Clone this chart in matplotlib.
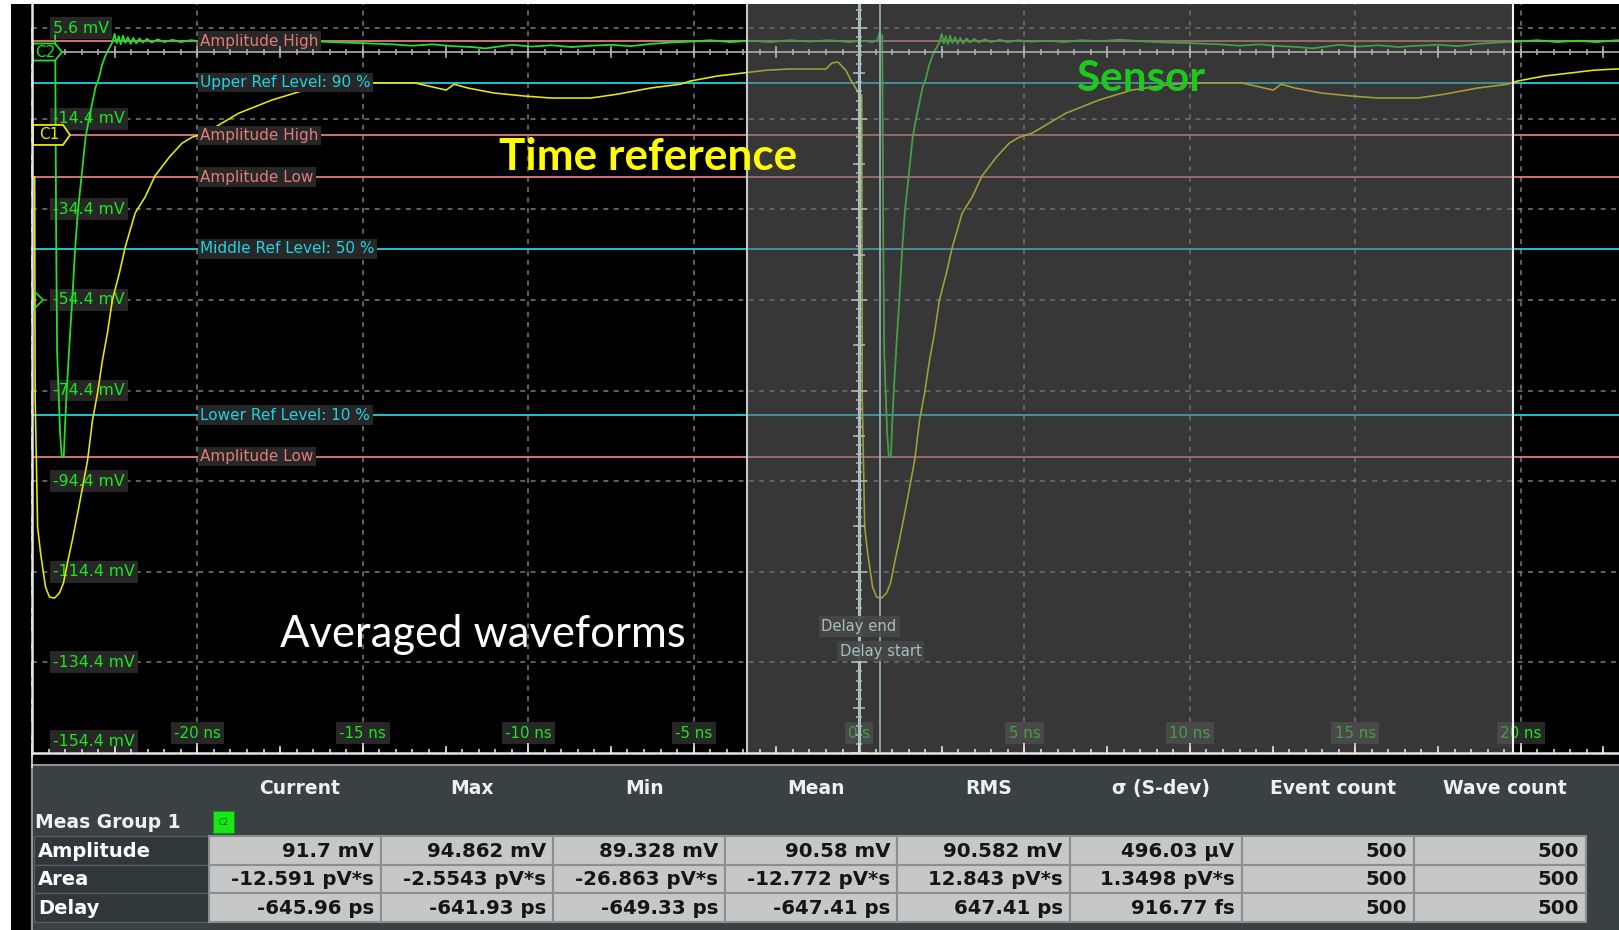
import numpy as np
import matplotlib
matplotlib.use("Agg")
import matplotlib.pyplot as plt
from matplotlib.patches import Rectangle, Polygon

W, H, DPI = 1619, 930, 100

# ---------------- display frame (ns, mV) ----------------
T_LEFT, T_RIGHT = -25.0, 22.97
V_BOTTOM, V_TOP = -154.4, 10.9

y_grid_mv = [5.6, -14.4, -34.4, -54.4, -74.4, -94.4, -114.4, -134.4, -154.4]
y_tick_labels = ["5.6 mV", "-14.4 mV", "-34.4 mV", "-54.4 mV", "-74.4 mV",
                 "-94.4 mV", "-114.4 mV", "-134.4 mV", "-154.4 mV"]
x_grid_ns = [-20, -15, -10, -5, 0, 5, 10, 15, 20]
x_tick_labels = ["-20 ns", "-15 ns", "-10 ns", "-5 ns", "0 s",
                 "5 ns", "10 ns", "15 ns", "20 ns"]

# ---------------- averaged waveforms ----------------
PERIOD_NS = 25.0
C1_EDGE_NS = 0.08        # falling edge of the C1 pulse near 0 s
C2_DELAY_NS = 0.62       # C2 edge follows the C1 edge

# C1 (time reference), one period starting at its falling edge
c1_rel_ns = [0.000, 0.015, 0.09, 0.18, 0.24, 0.33, 0.45, 0.60, 0.75, 0.87,
             0.99, 1.14, 1.30, 1.45, 1.60, 1.75, 1.90, 2.05, 2.20, 2.35,
             2.56, 2.74, 3.04, 3.34, 3.64, 4.07, 4.46, 4.76, 5.15, 6.17,
             7.17, 8.16, 9.19, 9.97, 11.48, 12.44, 12.68, 13.10, 13.89, 14.79,
             15.60, 16.81, 17.62, 18.61, 19.52, 19.82, 20.63, 22.14, 22.80, 23.92,
             24.10, 24.28, 24.52, 24.67, 24.82, 24.94]
c1_mv = [-9.2, -75.9, -104.6, -110.3, -113.4, -117.8, -120.0, -120.2, -119.1, -116.9,
         -112.5, -107.4, -101.5, -95.7, -89.8, -80.9, -75.0, -67.7, -61.7, -54.4,
         -48.5, -42.7, -35.2, -31.7, -27.0, -22.9, -19.8, -18.5, -17.6, -13.2,
         -10.3, -8.1, -7.0, -6.5, -6.5, -8.1, -6.8, -7.65, -8.75, -9.4,
         -9.85, -9.85, -9.0, -7.65, -6.8, -6.1, -5.0, -3.7, -3.45, -3.45,
         -2.1, -1.9, -3.7, -5.9, -7.65, -9.2]
c1_record_start_mv = -27.3

# C2 (sensor), one period starting at its falling edge
c2_rel_ns = [0.00, 0.03, 0.06, 0.15, 0.20, 0.26, 0.30, 0.35, 0.45, 0.52,
             0.60, 0.69, 0.80, 0.92, 1.02, 1.12, 1.22, 1.32, 1.42, 1.52,
             1.62, 1.72, 1.80, 1.86, 1.92, 1.98, 2.05, 2.12, 2.20, 2.28,
             2.36, 2.45, 2.55, 2.65, 2.78, 2.92, 3.10, 3.30, 3.55, 3.80,
             4.10, 4.50, 5.00, 5.50, 6.00, 6.60, 7.20, 8.00, 8.70, 9.50,
             10.20, 10.80, 11.40, 12.00, 12.60, 13.00, 13.40, 13.80, 14.40, 15.00,
             15.60, 16.20, 16.80, 17.40, 18.00, 18.60, 19.20, 19.80, 20.40, 21.00,
             21.60, 22.20, 22.80, 23.40, 24.00, 24.40, 24.70, 24.85, 24.92]
c2_mv = [4.0, -40.0, -66.0, -84.0, -89.0, -89.0, -82.0, -74.3, -62.0, -54.0,
         -43.5, -34.5, -27.0, -18.5, -14.5, -11.0, -7.5, -5.5, -2.5, -0.5,
         1.0, 2.3, 4.3, 2.2, 3.8, 2.0, 3.9, 2.3, 3.6, 2.1,
         3.4, 2.2, 3.3, 2.4, 3.2, 2.4, 3.1, 2.5, 3.0, 2.5,
         2.9, 2.6, 2.8, 2.5, 2.9, 2.7, 3.0, 2.6, 2.4, 2.2,
         2.0, 1.7, 2.0, 1.6, 1.4, 1.1, 1.5, 1.9, 1.5, 1.8,
         1.4, 1.7, 1.9, 1.6, 2.1, 2.4, 2.6, 2.9, 2.5, 2.8,
         2.5, 2.9, 2.6, 2.9, 2.5, 2.8, 2.5, 2.9, 4.5]

# ---------------- measurement settings ----------------
c2_amp_high = 2.7
c2_amplitude = 91.7
ref_pcts = [90, 50, 10]
c1_amp_high = -18.1
c1_amp_low = -27.3
c2_offset_mv = 0.3
c1_offset_mv = -18.0
trigger_mv = -54.4
gate_start_ns, gate_stop_ns = -3.39, 19.76
delay_end_ns = 0.0
delay_ps = -645.96

# ---------------- measurement table ----------------
group_name = "Meas Group 1"
columns = ["Current", "Max", "Min", "Mean", "RMS", "σ (S-dev)", "Event count", "Wave count"]
rows = ["Amplitude", "Area", "Delay"]
amplitude_vals = ["91.7 mV", "94.862 mV", "89.328 mV", "90.58 mV", "90.582 mV", "496.03 µV", "500", "500"]
area_vals = ["-12.591 pV*s", "-2.5543 pV*s", "-26.863 pV*s", "-12.772 pV*s", "12.843 pV*s", "1.3498 pV*s", "500", "500"]
delay_vals = ["-645.96 ps", "-641.93 ps", "-649.33 ps", "-647.41 ps", "647.41 ps", "916.77 fs", "500", "500"]

# ---------------- colours ----------------
YELLOW = "#eaea00"
GREEN = "#22e022"
LABEL_GREEN = "#1ee61e"
SALMON = "#e27c78"
CYAN = "#1fd3e2"
BOX = "#272727"

fig = plt.figure(figsize=(W / DPI, H / DPI), dpi=DPI, facecolor="white")

# background, frame and measurement table in pixel coordinates
bg = fig.add_axes([0, 0, 1, 1], zorder=0)
bg.set_xlim(0, W)
bg.set_ylim(H, 0)
bg.axis("off")
bg.add_patch(Rectangle((11, 4), W - 11, H - 4, facecolor="black", edgecolor="none"))
PANEL_TOP = 765
bg.add_patch(Rectangle((32, PANEL_TOP), W - 32 + 10, H - PANEL_TOP + 10,
                       facecolor="#3a4145", edgecolor="#8e9598", linewidth=1.5))

col_edges = [209 + 172.1 * i for i in range(len(columns) + 1)]
for i, name in enumerate(columns):
    cx = 0.5 * (col_edges[i] + col_edges[i + 1]) + 5
    bg.text(cx, 788, name, ha="center", va="center", color="#f0f0f0",
            fontsize=13.5, fontweight="bold", family="DejaVu Sans")
bg.text(35, 822, group_name, ha="left", va="center", color="#f0f0f0",
        fontsize=13.5, fontweight="bold", family="DejaVu Sans")
bg.add_patch(Rectangle((213, 811), 21, 22, facecolor="#19e619", edgecolor="#0e9a0e", linewidth=0.8))
bg.text(223.5, 822, "C2", ha="center", va="center", color="#0b6b0b", fontsize=5.5)

row_top0, row_h = 836, 28.6
for r, (rname, vals) in enumerate(zip(rows, [amplitude_vals, area_vals, delay_vals])):
    y0 = row_top0 + r * row_h
    bg.add_patch(Rectangle((34, y0), col_edges[0] - 34, row_h,
                           facecolor="#30373b", edgecolor="#565d61", linewidth=1))
    bg.text(38, y0 + row_h / 2 + 1, rname, ha="left", va="center", color="white",
            fontsize=14, fontweight="bold", family="DejaVu Sans")
    for c, val in enumerate(vals):
        bg.add_patch(Rectangle((col_edges[c], y0), col_edges[c + 1] - col_edges[c], row_h,
                               facecolor="#c6c7c7", edgecolor="#8b8e90", linewidth=1.5))
        bg.text(col_edges[c + 1] - 7, y0 + row_h / 2 + 1, val, ha="right", va="center",
                color="#151515", fontsize=14.2, fontweight="bold", family="DejaVu Sans")

# ---------------- waveform display ----------------
ax = fig.add_axes([32 / W, 1 - 753 / H, (W - 32) / W, (753 - 4) / H], zorder=1)
ax.set_xlim(T_LEFT, T_RIGHT)
ax.set_ylim(V_BOTTOM, V_TOP)
ax.set_facecolor("black")
ax.set_xticks([])
ax.set_yticks([])
for name, sp in ax.spines.items():
    sp.set_visible(name in ("left", "bottom"))
    sp.set_color("#e6e6e6")
    sp.set_linewidth(1.8)
    sp.set_zorder(10)

ns_per_px = (T_RIGHT - T_LEFT) / (W - 32)
mv_per_px = (V_TOP - V_BOTTOM) / (753 - 4)

grid_kw = dict(color="#7c7c7c", lw=1.1, ls=(0, (3.2, 3.6)), zorder=1)
for v in y_grid_mv[:-1]:
    ax.axhline(v, **grid_kw)
for t in x_grid_ns:
    if t != 0:
        ax.axvline(t, **grid_kw)

# graticule tick marks
fine_t = np.arange(-25.0, 23.0, 0.5)
mid_t = fine_t[np.isclose(np.mod(fine_t, 2.5), 0) | np.isclose(np.mod(fine_t, 2.5), 2.5)]
big_t = fine_t[np.isclose(np.mod(fine_t, 5.0), 0) | np.isclose(np.mod(fine_t, 5.0), 5.0)]
tk = dict(ls="none", color="#dcdcdc", mew=1.2, zorder=10, clip_on=False)
ax.plot(fine_t, np.full(fine_t.size, V_BOTTOM), marker=2, ms=3.0, **tk)
ax.plot(mid_t, np.full(mid_t.size, V_BOTTOM), marker=2, ms=5.0, **tk)
ax.plot(big_t, np.full(big_t.size, V_BOTTOM), marker=2, ms=7.5, **tk)
fine_v = np.arange(5.6, V_BOTTOM - 0.1, -4.0)
half_v = np.array(y_grid_mv[:-1]) - 10.0
ax.plot(np.full(fine_v.size, T_LEFT), fine_v, marker=3, ms=3.5, **tk)
ax.plot(np.full(half_v.size, T_LEFT), half_v, marker=3, ms=5.5, **tk)
ax.plot(np.full(len(y_grid_mv), T_LEFT), y_grid_mv, marker=3, ms=10.5, **tk)

# centre cross of the screen
ax.axhline(c2_offset_mv, color="#a2a2a2", lw=1.3, zorder=7)
ck = dict(ls="none", color="#b4b4b4", mew=1.1, zorder=7)
ax.plot(fine_t, np.full(fine_t.size, c2_offset_mv), marker="|", ms=4.2, **ck)
ax.plot(mid_t, np.full(mid_t.size, c2_offset_mv), marker="|", ms=8.5, **ck)
cen_v = np.arange(9.6, V_BOTTOM, -2.0)
ax.plot(np.zeros(cen_v.size), cen_v, marker="_", ms=4.2, **ck)
ax.plot(np.zeros(half_v.size), half_v, marker="_", ms=8.0, **ck)
ax.plot(np.zeros(len(y_grid_mv)), y_grid_mv, marker="_", ms=11.0, **ck)

# reference levels
c2_amp_low = c2_amp_high - c2_amplitude
ref_vals = [c2_amp_low + p / 100.0 * c2_amplitude for p in ref_pcts]
ref_names = ["Upper", "Middle", "Lower"]
levels = [(c2_amp_high, "Amplitude High", SALMON),
          (ref_vals[0], f"{ref_names[0]} Ref Level: {ref_pcts[0]} %", CYAN),
          (c1_amp_high, "Amplitude High", SALMON),
          (c1_amp_low, "Amplitude Low", SALMON),
          (ref_vals[1], f"{ref_names[1]} Ref Level: {ref_pcts[1]} %", CYAN),
          (ref_vals[2], f"{ref_names[2]} Ref Level: {ref_pcts[2]} %", CYAN),
          (c2_amp_low, "Amplitude Low", SALMON)]
for val, text, col in levels:
    ax.axhline(val, color=col, lw=1.3, zorder=2)
    ax.text(-20 + 3 * ns_per_px, val, text, ha="left", va="center", color=col,
            fontsize=11, family="DejaVu Sans", zorder=4.5,
            bbox=dict(boxstyle="square,pad=0.15", fc=BOX, ec="none"))

# vertical scale labels
for v, lab in zip(y_grid_mv, y_tick_labels):
    yy = v if v > V_BOTTOM else V_BOTTOM + 12 * mv_per_px
    ax.text(T_LEFT + 21 * ns_per_px, yy, lab, ha="left", va="center", color=LABEL_GREEN,
            fontsize=11.3, family="DejaVu Sans", zorder=3,
            bbox=dict(boxstyle="square,pad=0.22", fc=BOX, ec="none"))

# horizontal scale labels
for t, lab in zip(x_grid_ns, x_tick_labels):
    ax.text(t, V_BOTTOM + 20 * mv_per_px, lab, ha="center", va="center", color=LABEL_GREEN,
            fontsize=10.8, family="DejaVu Sans", zorder=3,
            bbox=dict(boxstyle="square,pad=0.22", fc=BOX, ec="none"))

# traces: two consecutive periods of each averaged channel
c1_t_arr, c1_v_arr = np.asarray(c1_rel_ns), np.asarray(c1_mv)
c2_t_arr, c2_v_arr = np.asarray(c2_rel_ns), np.asarray(c2_mv)
for k in range(2):
    shift = (k - 1) * PERIOD_NS
    v1 = c1_v_arr.copy()
    if k == 0:
        v1[0] = c1_record_start_mv
    ax.plot(C1_EDGE_NS + shift + c1_t_arr, v1, color=YELLOW, lw=1.15, zorder=4)
    ax.plot(C1_EDGE_NS + C2_DELAY_NS + shift + c2_t_arr, c2_v_arr, color=GREEN, lw=1.3, zorder=4)

# channel and trigger markers
def channel_marker(y, width_px, half_px, col, name):
    x0 = T_LEFT + 1 * ns_per_px
    tip = T_LEFT + width_px * ns_per_px
    sh = tip - 7 * ns_per_px
    hh = half_px * mv_per_px
    ax.add_patch(Polygon([(x0, y + hh), (sh, y + hh), (tip, y), (sh, y - hh), (x0, y - hh)],
                         closed=True, fc="black", ec=col, lw=1.3, zorder=8, clip_on=False))
    ax.text(0.5 * (x0 + sh) + 1.5 * ns_per_px, y, name, ha="center", va="center",
            color=col, fontsize=11, family="DejaVu Sans", zorder=8.1)

channel_marker(c2_offset_mv, 30, 8.5, GREEN, "C2")
channel_marker(c1_offset_mv, 38, 10, YELLOW, "C1")
th = 10 * mv_per_px
ax.add_patch(Polygon([(T_LEFT + 1 * ns_per_px, trigger_mv + th),
                      (T_LEFT + 11 * ns_per_px, trigger_mv),
                      (T_LEFT + 1 * ns_per_px, trigger_mv - th)],
                     closed=True, fc="none", ec=GREEN, lw=1.2, zorder=5))

# measurement gate
ax.axvspan(gate_start_ns, gate_stop_ns, color=(0.40, 0.40, 0.40), alpha=0.55, lw=0, zorder=6)
ax.axvline(gate_start_ns, color="#c9c9c9", lw=1.5, zorder=7)
ax.axvline(gate_stop_ns, color="#f4f4f4", lw=1.5, zorder=7)

# delay cursors
delay_start_ns = delay_end_ns - delay_ps / 1000.0
ax.axvline(delay_end_ns, color="#aabfc4", lw=2.2, zorder=8)
ax.axvline(delay_start_ns, color="#93aaae", lw=1.3, zorder=8)
cur_box = dict(boxstyle="square,pad=0.2", fc="#474747", ec="none", alpha=0.92)
ax.text(delay_end_ns, -126.4, "Delay end", ha="center", va="center", color="#a9bfc4",
        fontsize=10.6, family="DejaVu Sans", zorder=9, bbox=cur_box)
ax.text(delay_start_ns, -131.9, "Delay start", ha="center", va="center", color="#a9bfc4",
        fontsize=10.6, family="DejaVu Sans", zorder=9, bbox=cur_box)

# ---------------- annotations ----------------
ov = fig.add_axes([0, 0, 1, 1], zorder=5)
ov.set_xlim(0, W)
ov.set_ylim(H, 0)
ov.axis("off")
ov.patch.set_alpha(0)

renderer = fig.canvas.get_renderer()

def fitted_text(x, y, s, width, **kw):
    t = ov.text(x, y, s, ha="left", va="baseline", **kw)
    bb = t.get_window_extent(renderer)
    t.set_fontsize(t.get_fontsize() * width / bb.width)
    return t

fitted_text(499, 170, "Time reference", 298, color="#ffff00", fontsize=30,
            fontweight="bold", family="Lato")
fitted_text(1077, 91, "Sensor", 128, color="#1ec81e", fontsize=30,
            fontweight="bold", family="Lato")
fitted_text(280, 647, "Averaged waveforms", 406, color="white", fontsize=30,
            family="Lato")

fig.savefig("out.png", dpi=DPI, facecolor="white")
